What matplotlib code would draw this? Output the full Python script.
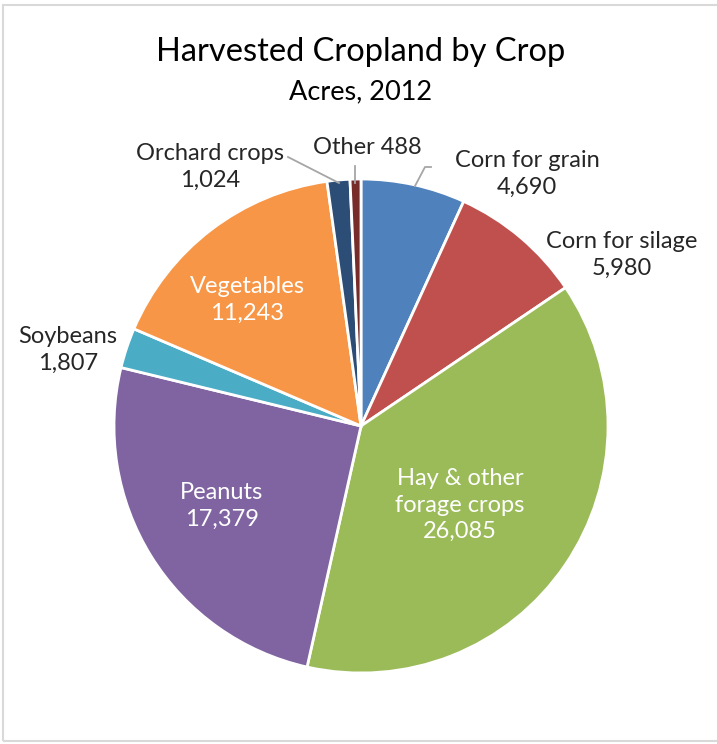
import matplotlib.pyplot as plt
from matplotlib.patches import Rectangle

# Harvested cropland by crop, acres 2012
crops = ['Corn for grain', 'Corn for silage', 'Hay & other\nforage crops', 'Peanuts',
         'Soybeans', 'Vegetables', 'Orchard crops', 'Other']
acres = [4690, 5980, 26085, 17379, 1807, 11243, 1024, 488]
colors = ['#4F81BD', '#C0504D', '#9BBB59', '#8064A2',
          '#4BACC6', '#F79646', '#2C4D75', '#772C2A']

H = 744
plt.rcParams['font.family'] = ['Lato', 'DejaVu Sans']

fig = plt.figure(figsize=(7.17, 7.44), dpi=100)
ax = fig.add_axes([0, 0, 1, 1])
ax.axis('off')

# pie in pixel space: center (361, 426), radius 247
ax.pie(acres, colors=colors, startangle=90, counterclock=False,
       center=(361, H - 426), radius=247,
       wedgeprops=dict(edgecolor='white', linewidth=2))
ax.set_xlim(0, 717)
ax.set_ylim(0, H)
ax.set_aspect('equal')

def fmt(v):
    return '{:,}'.format(v)

fs = 17
ls = 1.3
# inside labels (white)
ax.text(460, H - 505, crops[2] + '\n' + fmt(acres[2]), color='white', fontsize=fs,
        ha='center', va='center', linespacing=ls)
ax.text(222, H - 506, crops[3] + '\n' + fmt(acres[3]), color='white', fontsize=fs,
        ha='center', va='center', linespacing=ls)
ax.text(247, H - 300, crops[5] + '\n' + fmt(acres[5]), color='white', fontsize=fs,
        ha='center', va='center', linespacing=ls)

# outside labels (dark)
tc = '#262626'
ax.text(527, H - 174, crops[0] + '\n' + fmt(acres[0]), color=tc, fontsize=fs,
        ha='center', va='center', linespacing=ls)
ax.text(622, H - 255, crops[1] + '\n' + fmt(acres[1]), color=tc, fontsize=fs,
        ha='center', va='center', linespacing=ls)
ax.text(68, H - 350, crops[4] + '\n' + fmt(acres[4]), color=tc, fontsize=fs,
        ha='center', va='center', linespacing=ls)
ax.text(210, H - 167, crops[6] + '\n' + fmt(acres[6]), color=tc, fontsize=fs,
        ha='center', va='center', linespacing=ls)
ax.text(367, H - 147, crops[7] + ' ' + fmt(acres[7]), color=tc, fontsize=fs,
        ha='center', va='center')

# leader lines
lc = '#A6A6A6'
ax.plot([415, 425, 431], [H - 186, H - 167, H - 167], color=lc, lw=1.3)
ax.plot([288, 339], [H - 157, H - 183], color=lc, lw=1.3)
ax.plot([355, 355], [H - 166, H - 183], color=lc, lw=1.3)

# titles
ax.text(361, H - 52, 'Harvested Cropland by Crop', fontsize=23.5, color='black',
        ha='center', va='center')
ax.text(361, H - 92, 'Acres, 2012', fontsize=19.5, color='black',
        ha='center', va='center')

# chart border
ax.add_patch(Rectangle((3, 3), 760, H - 8, fill=False, edgecolor='#D9D9D9',
                       lw=1.5, clip_on=False))

fig.savefig('out.png', dpi=100)
